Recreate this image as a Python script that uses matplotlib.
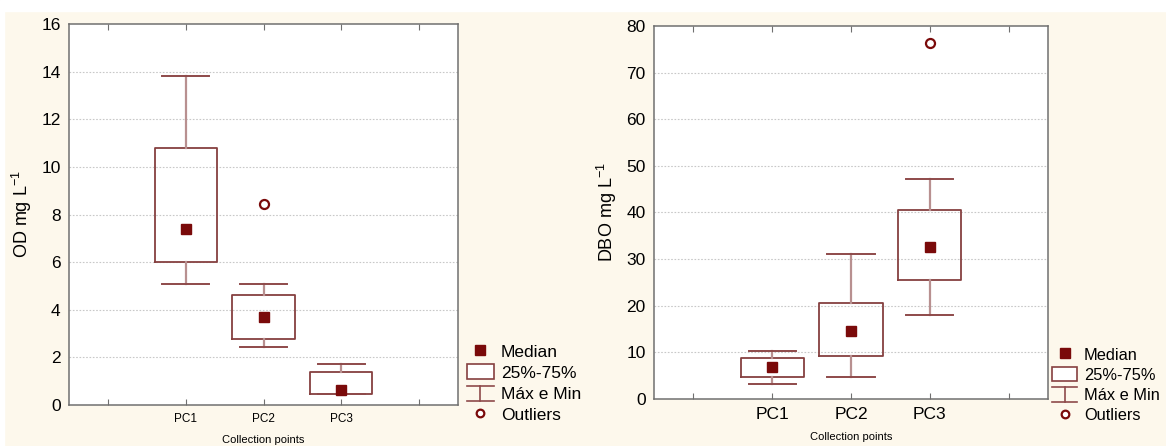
import matplotlib
matplotlib.use("Agg")
import matplotlib.pyplot as plt
from matplotlib.lines import Line2D
from matplotlib.patches import Patch, Rectangle
from matplotlib.legend_handler import HandlerBase

plt.rcParams["font.family"] = ["Liberation Sans", "DejaVu Sans"]
plt.rcParams["mathtext.fontset"] = "custom"
plt.rcParams["mathtext.rm"] = "Liberation Sans"
plt.rcParams["mathtext.it"] = "Liberation Sans:italic"

# Data.
points = ["PC1", "PC2", "PC3"]

od_min = [5.1, 2.42, 0.47]
od_q1 = [6.0, 2.77, 0.47]
od_med = [7.38, 3.71, 0.63]
od_q3 = [10.8, 4.63, 1.37]
od_max = [13.8, 5.1, 1.71]
od_out = [[], [8.43], []]

dbo_min = [3.15, 4.72, 18.0]
dbo_q1 = [4.65, 9.22, 25.5]
dbo_med = [6.93, 14.5, 32.5]
dbo_q3 = [8.86, 20.5, 40.5]
dbo_max = [10.3, 31.0, 47.2]
dbo_out = [[], [], [76.4]]

DARK = "#7a0a0a"
BOX = "#864040"
WHISK = "#b89090"
CAP = "#8e4a4a"
GRID = "#c8c8c8"
SPINE = "#707070"


class WhiskerKey:
    pass


class WhiskerHandler(HandlerBase):
    def create_artists(self, legend, orig_handle, xdescent, ydescent,
                       width, height, fontsize, trans):
        x0 = -xdescent
        x1 = x0 + width
        xm = (x0 + x1) / 2
        top = -ydescent + height
        bot = -ydescent - 0.05 * height
        arts = [Line2D([x0, x1], [top, top]),
                Line2D([xm, xm], [bot, top]),
                Line2D([x0, x1], [bot, bot])]
        for a in arts:
            a.set_color(CAP)
            a.set_linewidth(1.2)
            a.set_transform(trans)
        return arts


def draw_panel(ax, mins, q1s, meds, q3s, maxs, outs, ymax, ystep,
               ylabel, xfs):
    stats = []
    for i in range(len(points)):
        stats.append(dict(med=meds[i], q1=q1s[i], q3=q3s[i],
                          whislo=mins[i], whishi=maxs[i],
                          fliers=outs[i], label=points[i]))
    pos = [1, 2, 3]
    ax.bxp(stats, positions=pos, widths=0.8, capwidths=0.6,
           showfliers=True,
           boxprops=dict(color=BOX, linewidth=1.3),
           whiskerprops=dict(color=WHISK, linewidth=1.6),
           capprops=dict(color=CAP, linewidth=1.4),
           medianprops=dict(visible=False),
           flierprops=dict(marker="o", markersize=6.5, markerfacecolor="white",
                           markeredgecolor=DARK, markeredgewidth=1.6),
           zorder=3)
    ax.plot(pos, meds, "s", color=DARK, markersize=7.5, linestyle="none",
            zorder=4)

    ax.set_xlim(-0.5, 4.5)
    ax.set_xticks([0, 1, 2, 3, 4])
    ax.set_xticklabels(["", "PC1", "PC2", "PC3", ""], fontsize=xfs)
    ax.set_ylim(0, ymax)
    yt = list(range(0, ymax + 1, ystep))
    ax.set_yticks(yt)
    ax.tick_params(axis="y", labelsize=12.5, length=0, pad=6)
    ax.tick_params(axis="x", direction="in", top=True, length=4,
                   color=SPINE, pad=6)
    for y in yt[1:-1]:
        ax.axhline(y, color=GRID, linestyle=(0, (1.5, 1.5)), linewidth=0.8,
                   zorder=0)
    for s in ax.spines.values():
        s.set_color(SPINE)
        s.set_linewidth(1.1)
    ax.set_facecolor("white")
    ax.set_ylabel(ylabel, fontsize=13)
    ax.set_xlabel("Collection points", fontsize=8, labelpad=7)


fig = plt.figure(figsize=(11.66, 4.46), dpi=100, facecolor="#fdf8ec")
fig.patches.append(Rectangle((0, 1 - 11 / 446), 1, 11 / 446,
                             transform=fig.transFigure, color="white",
                             zorder=0))
fig.patches.append(Rectangle((0, 0), 4 / 1166, 1,
                             transform=fig.transFigure, color="white",
                             zorder=0))

ax1 = fig.add_axes([0.0592, 0.0919, 0.3336, 0.8543])
ax2 = fig.add_axes([0.5609, 0.1054, 0.3379, 0.8363])

draw_panel(ax1, od_min, od_q1, od_med, od_q3, od_max, od_out, 16, 2,
           "OD mg L$^{-1}$", 8.5)
draw_panel(ax2, dbo_min, dbo_q1, dbo_med, dbo_q3, dbo_max, dbo_out, 80, 10,
           "DBO mg L$^{-1}$", 12.5)
ax1.yaxis.set_label_coords(-0.09, 0.5)
ax2.yaxis.set_label_coords(-0.089, 0.5)

handles = [
    Line2D([], [], marker="s", color=DARK, linestyle="none", markersize=7.5),
    Patch(facecolor="white", edgecolor=BOX, linewidth=1.2),
    WhiskerKey(),
    Line2D([], [], marker="o", markerfacecolor="white", markeredgecolor=DARK,
           markeredgewidth=1.6, linestyle="none", markersize=5.5),
]
labels = ["Median", "25%-75%", "Máx e Min", "Outliers"]

for x0, y0, fs in [(467 / 1166, 23 / 446, 12.5), (1052 / 1166, 23 / 446, 11.8)]:
    fig.legend(handles, labels, loc="lower left", bbox_to_anchor=(x0, y0),
               bbox_transform=fig.transFigure, frameon=False, fontsize=fs,
               handlelength=1.55, handleheight=0.92, handletextpad=0.4,
               labelspacing=0.28, borderpad=0, borderaxespad=0,
               handler_map={WhiskerKey: WhiskerHandler()})

fig.savefig("out.png", dpi=100, facecolor=fig.get_facecolor())
